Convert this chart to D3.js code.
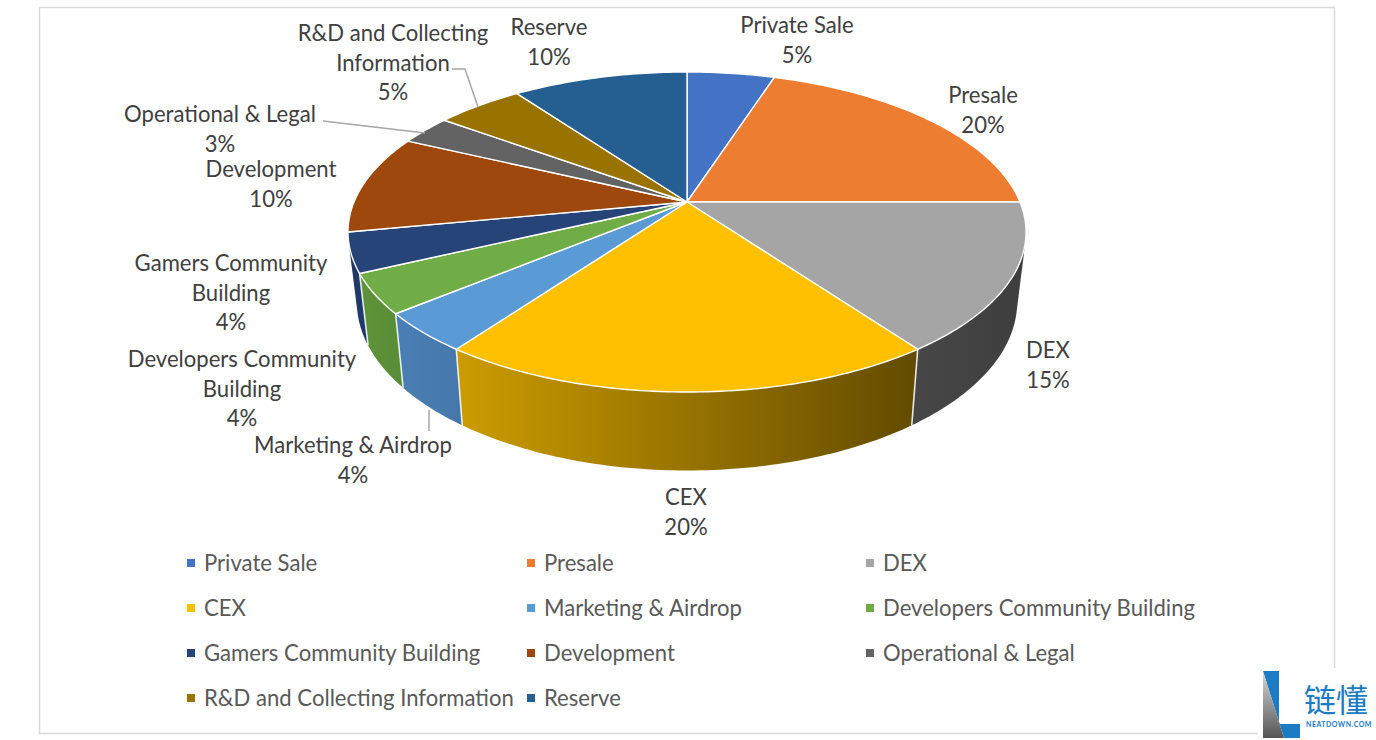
<!DOCTYPE html>
<html><head><meta charset="utf-8">
<script src="https://cdn.jsdelivr.net/npm/d3@7"></script>
<style>html,body{margin:0;padding:0;background:#fff;overflow:hidden}svg{display:block}text{font-family:Lato,"Open Sans",sans-serif}</style>
</head><body><svg id="c" width="1376" height="740"></svg>
<script>
const categories=["Private Sale","Presale","DEX","CEX","Marketing & Airdrop","Developers Community Building","Gamers Community Building","Development","Operational & Legal","R&D and Collecting Information","Reserve"];
const values=[5,20,15,20,4,4,4,10,3,5,10];
const colors=["#4472c4","#ed7d31","#a5a5a5","#ffc000","#5b9bd5","#70ad47","#264478","#9e480e","#636363","#997300","#255e91"];
const sideFrom=["#3a62a8","#c96a2a","#474747","#cc9c00","#4a7fb5","#5e9439","#1f3a68","#85400d","#555","#806000","#1f4f7a"];
const sideTo=["#3a62a8","#c96a2a","#3e3e3e","#624b00","#4577ab","#588c36","#1f3a68","#85400d","#555","#806000","#1f4f7a"];
const labelLines=[["Private Sale"],["Presale"],["DEX"],["CEX"],["Marketing & Airdrop"],["Developers Community","Building"],["Gamers Community","Building"],["Development"],["Operational & Legal"],["R&D and Collecting","Information"],["Reserve"]];

// layout
const labelPos=[[797,25],[983,95],[1048,350],[686,497],[353,445],[242,359],[231,263],[271,169],[220,114],[393,33],[549,27]];
const legendCols=[191,531,870],legendRows=[563,608,653,698];
const leaders=[[[452,69],[465,69],[478,107]],[[323,121],[425,133]],[[429,410],[429,431]]];
const cx=687,cy=202,A=333,B=154.4,K=0.1875,LS=1.055,LX=0.974,LD=68;
const svg=d3.select("#c"),defs=svg.append("defs");
svg.append("rect").attr("x",39.5).attr("y",7.5).attr("width",1295).attr("height",726).attr("fill","#fff").attr("stroke","#d9d9d9").attr("stroke-width",1.5);

// perspective projection of the pie disc
const topPt=a=>{const u=Math.sin(a),v=Math.cos(a),d=1+K*v;return [cx+A*u/d,cy-B*v/d]};
const botPt=a=>{const p=topPt(a);return [cx+LX*(p[0]-cx),cy+LD+LS*(p[1]-cy)]};
const arcs=d3.pie().sort(null).value(d=>d)(values);
const line=d3.line();
const samp=(a0,a1)=>d3.range(0,1.0001,1/Math.max(2,Math.ceil((a1-a0)*60))).map(t=>a0+(a1-a0)*t);

// side wall: the slices facing the viewer (DEX to Gamers Community Building)
const frontSlices=[2,3,4,5,6];
frontSlices.forEach(i=>{
  const d=arcs[i],s=samp(d.startAngle,d.endAngle);
  const pts=d3.polygonHull(s.map(topPt).concat(s.map(botPt)));
  const xs=pts.map(p=>p[0]);
  const gid="g"+i;
  const g=defs.append("linearGradient").attr("id",gid).attr("gradientUnits","userSpaceOnUse").attr("x1",d3.min(xs)).attr("x2",d3.max(xs)).attr("y1",0).attr("y2",0);
  g.append("stop").attr("offset",0).attr("stop-color",sideFrom[i]);
  g.append("stop").attr("offset",1).attr("stop-color",sideTo[i]);
  svg.append("path").attr("d",line(pts)+"Z").attr("fill",`url(#${gid})`);
});
// seams between the front slices
frontSlices.slice(0,-1).forEach(i=>{const a=arcs[i].endAngle;
  svg.append("path").attr("d",line([topPt(a),botPt(a)])).attr("stroke","#fff").attr("stroke-width",1.6).attr("opacity",.85);
});
// top face
arcs.forEach((d,i)=>{
  const pts=[[cx,cy]].concat(samp(d.startAngle,d.endAngle).map(topPt));
  svg.append("path").attr("d",line(pts)+"Z").attr("fill",colors[i]).attr("stroke","#fff").attr("stroke-width",1.4).attr("stroke-linejoin","round");
});
// leaders
leaders.forEach(l=>svg.append("path").attr("d",line(l)).attr("fill","none").attr("stroke","#a6a6a6").attr("stroke-width",1.5));
// labels
const tc="#404040",fs=22.1,lh=29.5;
const total=d3.sum(values);
categories.forEach((c,i)=>{
  const lines=labelLines[i].concat([d3.format(".0%")(values[i]/total)]);
  const t=svg.append("text").attr("text-anchor","middle").attr("font-size",fs).attr("fill",tc);
  lines.forEach((s,j)=>t.append("tspan").attr("x",labelPos[i][0]).attr("y",labelPos[i][1]+8+j*lh).text(s));
});
// legend
categories.forEach((c,i)=>{
  const x=legendCols[i%3],y=legendRows[Math.floor(i/3)];
  svg.append("rect").attr("x",x-4).attr("y",y-4).attr("width",8).attr("height",8).attr("fill",colors[i]);
  svg.append("text").attr("x",x+13).attr("y",y+8).attr("font-size",fs).attr("fill","#595959").text(c);
});
// logo
svg.append("rect").attr("x",1258).attr("y",668).attr("width",118).attr("height",72).attr("fill","#fff");
const lg=defs.append("linearGradient").attr("id","lg").attr("x1",0).attr("y1",0).attr("x2",0).attr("y2",1);
lg.append("stop").attr("offset",0).attr("stop-color","#d8d8d8");lg.append("stop").attr("offset",1).attr("stop-color","#555");
svg.append("path").attr("d","M1263 671H1279V724H1300V738H1284Z").attr("fill","#1b7bc4");
svg.append("path").attr("d","M1263 671L1284 738H1263Z").attr("fill","url(#lg)");
svg.append("text").attr("x",1304).attr("y",712).attr("font-size",32).attr("fill","#1b7bc4").style("font-family","'Noto Sans CJK SC'").text("链懂");
svg.append("text").attr("x",1306).attr("y",727).attr("font-size",7).attr("font-weight",700).attr("letter-spacing",.5).attr("fill","#1b7bc4").text("NEATDOWN.COM");
</script></body></html>
